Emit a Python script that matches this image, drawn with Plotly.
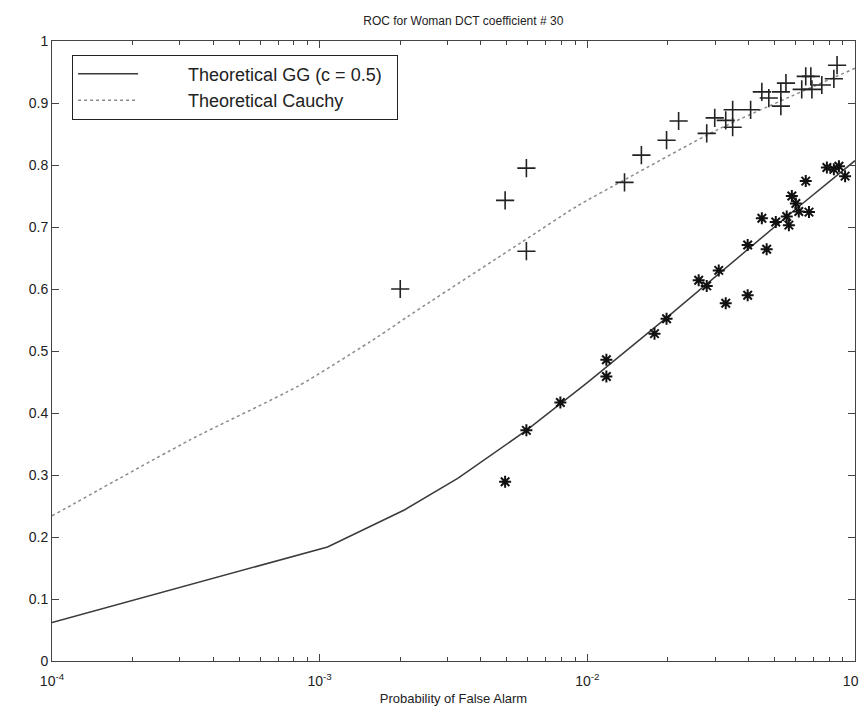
import plotly.graph_objects as go

# Theoretical curves
gg_pfa = [1e-4, 1.07e-3, 2.08e-3, 3.29e-3, 5.92e-3, 1.0e-2, 1.995e-2, 3.98e-2, 6.01e-2, 0.1]
gg_pd = [0.062, 0.184, 0.244, 0.295, 0.372, 0.449, 0.555, 0.664, 0.729, 0.807]

cauchy_pfa = [1e-4, 3.29e-4, 8.28e-4, 1.65e-3, 2.14e-3, 5.66e-3, 9.10e-3, 1.39e-2, 3.10e-2, 0.1]
cauchy_pd = [0.234, 0.357, 0.443, 0.523, 0.556, 0.675, 0.733, 0.777, 0.858, 0.956]

# Empirical points: Cauchy detector (+)
plus_pfa = [2.0e-3, 4.93e-3, 5.92e-3, 5.92e-3, 1.377e-2, 1.592e-2, 1.977e-2, 2.193e-2, 2.793e-2,
            2.992e-2, 3.289e-2, 3.491e-2, 3.491e-2, 4.074e-2, 4.487e-2, 4.764e-2, 5.284e-2,
            5.284e-2, 5.521e-2, 6.324e-2, 6.546e-2, 6.839e-2, 6.902e-2, 7.516e-2, 8.337e-2, 8.570e-2]
plus_pd = [0.600, 0.743, 0.795, 0.661, 0.772, 0.816, 0.840, 0.871, 0.851,
           0.876, 0.872, 0.861, 0.889, 0.889, 0.918, 0.908, 0.918,
           0.895, 0.932, 0.922, 0.943, 0.943, 0.922, 0.929, 0.939, 0.961]

# Empirical points: GG detector (*)
star_pfa = [4.93e-3, 5.92e-3, 7.93e-3, 1.178e-2, 1.178e-2, 1.782e-2, 1.977e-2, 2.606e-2, 2.793e-2,
            3.097e-2, 3.289e-2, 3.972e-2, 3.972e-2, 4.487e-2, 4.677e-2, 5.058e-2, 5.559e-2,
            5.662e-2, 5.808e-2, 6.012e-2, 6.166e-2, 6.546e-2, 6.730e-2, 7.852e-2, 8.337e-2,
            8.710e-2, 9.183e-2]
star_pd = [0.289, 0.372, 0.417, 0.486, 0.459, 0.528, 0.552, 0.614, 0.605,
           0.630, 0.577, 0.590, 0.671, 0.714, 0.664, 0.708, 0.717,
           0.703, 0.750, 0.738, 0.725, 0.774, 0.724, 0.796, 0.793,
           0.798, 0.782]

x_major = [1e-4, 1e-3, 1e-2, 1e-1]
x_major_text = ["10<sup>-4</sup>", "10<sup>-3</sup>", "10<sup>-2</sup>", "10<sup>-1</sup>"]
x_minor = [m * d for d in [1e-4, 1e-3, 1e-2] for m in range(2, 10)]
y_ticks = [0, 0.1, 0.2, 0.3, 0.4, 0.5, 0.6, 0.7, 0.8, 0.9, 1]
y_text = ["0", "0.1", "0.2", "0.3", "0.4", "0.5", "0.6", "0.7", "0.8", "0.9", "1"]

NB = "\u00a0"
fig = go.Figure()
fig.add_trace(go.Scatter(x=gg_pfa, y=gg_pd, mode="lines",
                         line=dict(color="#3a3a3a", width=1.5),
                         name=NB * 9 + "Theoretical GG (c = 0.5)" + NB * 2))
fig.add_trace(go.Scatter(x=cauchy_pfa, y=cauchy_pd, mode="lines",
                         line=dict(color="#8a8a8a", width=1.5, dash="dot", shape="spline", smoothing=0.6),
                         name=NB * 9 + "Theoretical Cauchy"))
fig.add_trace(go.Scatter(x=plus_pfa, y=plus_pd, mode="markers", showlegend=False,
                         marker=dict(symbol="cross-thin-open", size=13, color="#222",
                                     line=dict(color="#222", width=1.6))))
fig.add_trace(go.Scatter(x=star_pfa, y=star_pd, mode="markers", showlegend=False,
                         marker=dict(symbol="asterisk-open", size=10, color="#111",
                                     line=dict(color="#111", width=2))))

axis_common = dict(showline=True, linecolor="#444", linewidth=1, mirror="ticks",
                   ticks="inside", tickcolor="#444", showgrid=False, zeroline=False,
                   automargin=False, ticklabeloverflow="allow",
                   tickfont=dict(family="Liberation Sans, Arial", size=14, color="#222"))

fig.update_xaxes(type="log", range=[-4, -1], tickvals=x_major, ticktext=x_major_text,
                 ticklen=7, ticklabelstandoff=7,
                 minor=dict(tickvals=x_minor, ticks="inside", ticklen=4, tickcolor="#444", showgrid=False),
                 title=dict(text="Probability of False Alarm", standoff=6,
                            font=dict(family="Liberation Sans, Arial", size=13, color="#222")),
                 **axis_common)
fig.update_yaxes(range=[0, 1], tickvals=y_ticks, ticktext=y_text, ticklen=7, **axis_common)

fig.update_layout(
    width=859, height=704,
    margin=dict(l=44, r=12, t=33, b=51),
    paper_bgcolor="white", plot_bgcolor="white",
    title=dict(text="ROC for Woman DCT coefficient # 30", x=0.53, xanchor="center",
               y=0.982, yanchor="middle",
               font=dict(family="Liberation Sans, Arial", size=12, color="#222")),
    legend=dict(x=0.025, y=0.978, xanchor="left", yanchor="top",
                bordercolor="#222", borderwidth=1, bgcolor="white",
                font=dict(family="Liberation Sans, Arial", size=18, color="#222"),
                tracegroupgap=0, itemwidth=60),
    showlegend=True,
)

fig.write_html("out.html")
